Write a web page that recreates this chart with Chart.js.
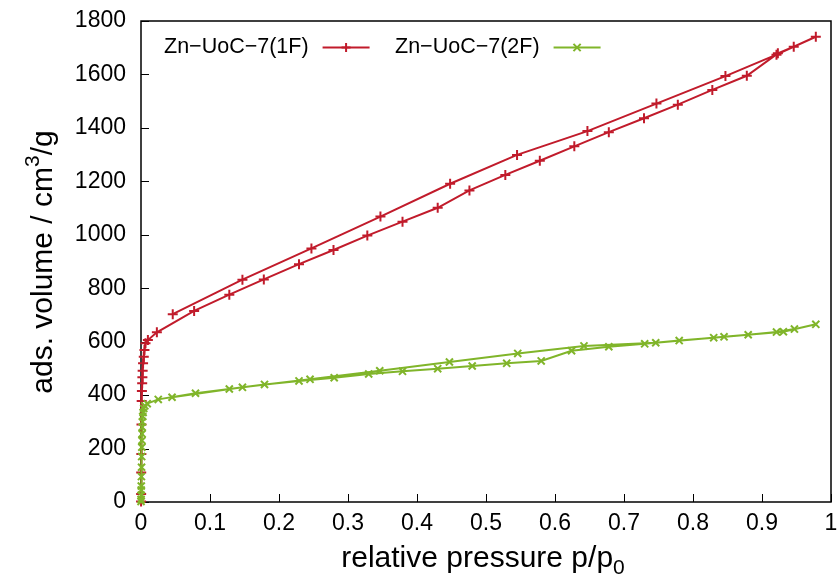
<!DOCTYPE html>
<html>
<head>
<meta charset="utf-8">
<script src="https://cdn.jsdelivr.net/npm/chart.js@4/dist/chart.umd.min.js"></script>
<style>
  html, body { margin: 0; padding: 0; background: #fff; }
  #wrap { width: 840px; height: 578px; }
</style>
</head>
<body>
<div id="wrap"><canvas id="isoChart" width="840" height="578"></canvas></div>
<script>
// --- dados ---
// Zn-UoC-7(1F): adsorção (ramo de baixo) e dessorção (ramo de cima)
const p1fAds = [0.0001, 0.0002, 0.0003, 0.0005, 0.0007, 0.001, 0.0013, 0.0017, 0.002, 0.0024, 0.003, 0.004, 0.005, 0.0065, 0.010, 0.023,
  0.077, 0.128, 0.178, 0.229, 0.279, 0.328, 0.379, 0.430, 0.476, 0.528, 0.578, 0.628, 0.678, 0.729, 0.778, 0.828, 0.878, 0.923, 0.946, 0.978];
const v1fAds = [2, 30, 110, 180, 290, 378, 415, 444, 467, 491, 519, 544, 569, 594, 606, 635,
  715, 776, 833, 890, 943, 997, 1049, 1101, 1166, 1224, 1277, 1331, 1384, 1436, 1487, 1542, 1595, 1679, 1704, 1741];
const p1fDes = [0.921, 0.847, 0.747, 0.647, 0.545, 0.448, 0.347, 0.247, 0.147, 0.046];
const v1fDes = [1674, 1594, 1491, 1388, 1299, 1191, 1068, 949, 832, 703];

// Zn-UoC-7(2F)
const p2fAds = [0.00005, 0.0001, 0.0002, 0.0003, 0.0004, 0.0006, 0.0008, 0.001, 0.0012, 0.0014, 0.0016, 0.0018, 0.002, 0.0025, 0.003, 0.004, 0.0055, 0.009, 0.025,
  0.079, 0.128, 0.179, 0.229, 0.280, 0.330, 0.379, 0.430, 0.480, 0.530, 0.580, 0.624, 0.678, 0.730, 0.780, 0.830, 0.880, 0.921, 0.947, 0.978];
const v2fAds = [2, 10, 25, 45, 60, 95, 130, 170, 205, 230, 255, 280, 300, 320, 335, 350, 360, 368, 384,
  407, 423, 440, 453, 465, 479, 489, 499, 509, 519, 528, 566, 581, 592, 604, 615, 626, 636, 647, 665];
const p2fDes = [0.931, 0.845, 0.746, 0.642, 0.546, 0.447, 0.346, 0.245, 0.147, 0.045];
const v2fDes = [637, 618, 596, 584, 556, 524, 491, 459, 429, 392];

const nomes = ['Zn\u2212UoC\u22127(1F)', 'Zn\u2212UoC\u22127(2F)'];
const xTicks = [0, 0.1, 0.2, 0.3, 0.4, 0.5, 0.6, 0.7, 0.8, 0.9, 1];
const yTicks = [0, 200, 400, 600, 800, 1000, 1200, 1400, 1600, 1800];

const corVermelha = '#c11b2b';
const corVerde = '#80b52a';
const fonte = '"Liberation Sans", Arial, sans-serif';

// junta os ramos num caminho só (adsorção -> dessorção)
function montarPontos(pa, va, pd, vd) {
    const pts = pa.map((p, i) => ({ x: p, y: va[i] }));
    return pts.concat(pd.map((p, i) => ({ x: p, y: vd[i] })));
}

// borda, ticks para dentro, legenda e títulos no estilo gnuplot
const estiloGnuplot = {
    id: 'estiloGnuplot',
    beforeDatasetsDraw(chart) {
        const { ctx, chartArea: a, scales: { x, y } } = chart;
        ctx.save();
        ctx.strokeStyle = '#000';
        ctx.lineWidth = 1.5;
        ctx.strokeRect(a.left, a.top, a.right - a.left, a.bottom - a.top);
        ctx.lineWidth = 1;
        ctx.beginPath();
        xTicks.forEach(v => {
            const px = Math.round(x.getPixelForValue(v)) + 0.5;
            ctx.moveTo(px, a.bottom); ctx.lineTo(px, a.bottom - 8);
        });
        yTicks.forEach(v => {
            const py = Math.round(y.getPixelForValue(v)) + 0.5;
            ctx.moveTo(a.left, py); ctx.lineTo(a.left + 8, py);
        });
        ctx.stroke();
        ctx.restore();
    },
    afterDraw(chart) {
        const { ctx } = chart;
        ctx.save();
        ctx.fillStyle = '#000';
        ctx.textBaseline = 'middle';

        // legenda
        ctx.font = '21.5px ' + fonte;
        const itens = [
            { texto: nomes[0], cor: corVermelha, x: 164, estilo: '+' },
            { texto: nomes[1], cor: corVerde, x: 395, estilo: 'x' }
        ];
        const yy = 47.5;
        itens.forEach(it => {
            ctx.fillStyle = '#000';
            ctx.textAlign = 'left';
            ctx.fillText(it.texto, it.x, yy);
            const w = ctx.measureText(it.texto).width;
            const x0 = it.x + w + 14, x1 = x0 + 47;
            ctx.strokeStyle = it.cor;
            ctx.lineWidth = 2;
            ctx.beginPath(); ctx.moveTo(x0, yy); ctx.lineTo(x1, yy); ctx.stroke();
            const cx = (x0 + x1) / 2, r = 4.5;
            ctx.beginPath();
            if (it.estilo === '+') {
                ctx.moveTo(cx - r, yy); ctx.lineTo(cx + r, yy);
                ctx.moveTo(cx, yy - r); ctx.lineTo(cx, yy + r);
            } else {
                ctx.moveTo(cx - r * 0.8, yy - r * 0.8); ctx.lineTo(cx + r * 0.8, yy + r * 0.8);
                ctx.moveTo(cx - r * 0.8, yy + r * 0.8); ctx.lineTo(cx + r * 0.8, yy - r * 0.8);
            }
            ctx.stroke();
        });

        // título do eixo x com subscrito
        ctx.fillStyle = '#000';
        ctx.textAlign = 'left';
        const base = 'relative pressure p/p';
        ctx.font = '30px ' + fonte;
        const wb = ctx.measureText(base).width;
        ctx.font = '21px ' + fonte;
        const ws = ctx.measureText('0').width;
        const xs = 483 - (wb + ws) / 2;
        ctx.font = '30px ' + fonte;
        ctx.fillText(base, xs, 559);
        ctx.font = '21px ' + fonte;
        ctx.fillText('0', xs + wb, 568);

        // título do eixo y com sobrescrito
        ctx.translate(44, 262);
        ctx.rotate(-Math.PI / 2);
        const t1 = 'ads. volume / cm', t2 = '3', t3 = '/g';
        ctx.font = '30px ' + fonte;
        const w1 = ctx.measureText(t1).width, w3 = ctx.measureText(t3).width;
        ctx.font = '21px ' + fonte;
        const w2 = ctx.measureText(t2).width;
        const px = -(w1 + w2 + w3) / 2;
        ctx.font = '30px ' + fonte;
        ctx.fillText(t1, px, 0);
        ctx.font = '21px ' + fonte;
        ctx.fillText(t2, px + w1, -11);
        ctx.font = '30px ' + fonte;
        ctx.fillText(t3, px + w1 + w2, 0);
        ctx.restore();
    }
};

const ctx = document.getElementById('isoChart').getContext('2d');
const isoChart = new Chart(ctx, {
    type: 'scatter',
    data: {
        datasets: [
            {
                label: nomes[0],
                data: montarPontos(p1fAds, v1fAds, p1fDes, v1fDes),
                showLine: true,
                borderColor: corVermelha,
                backgroundColor: corVermelha,
                borderWidth: 2,
                pointStyle: 'cross',
                pointRadius: 5,
                pointBorderWidth: 2,
                clip: false,
                order: 1
            },
            {
                label: nomes[1],
                data: montarPontos(p2fAds, v2fAds, p2fDes, v2fDes),
                showLine: true,
                borderColor: corVerde,
                backgroundColor: corVerde,
                borderWidth: 2,
                pointStyle: 'crossRot',
                pointRadius: 5,
                pointBorderWidth: 2,
                clip: false,
                order: 0
            }
        ]
    },
    options: {
        responsive: false,
        animation: false,
        layout: { padding: { top: 21, right: 9, left: 0, bottom: 0 } },
        plugins: { legend: { display: false }, tooltip: { enabled: false } },
        scales: {
            x: {
                type: 'linear',
                min: 0, max: 1,
                afterBuildTicks: s => { s.ticks = xTicks.map(v => ({ value: v })); },
                afterFit: s => { s.height = 76; s.paddingLeft = 0; s.paddingRight = 0; },
                grid: { display: false, drawTicks: false },
                border: { display: false },
                ticks: { color: '#000', padding: 8, maxRotation: 0, autoSkip: false,
                    callback: v => String(v), font: { size: 23, family: fonte } }
            },
            y: {
                type: 'linear',
                min: 0, max: 1800,
                afterBuildTicks: s => { s.ticks = yTicks.map(v => ({ value: v })); },
                afterFit: s => { s.width = 141; s.paddingTop = 0; s.paddingBottom = 0; },
                grid: { display: false, drawTicks: false },
                border: { display: false },
                ticks: { color: '#000', padding: 15, autoSkip: false,
                    callback: v => String(v), font: { size: 23, family: fonte } }
            }
        }
    },
    plugins: [estiloGnuplot]
});
</script>
</body>
</html>
